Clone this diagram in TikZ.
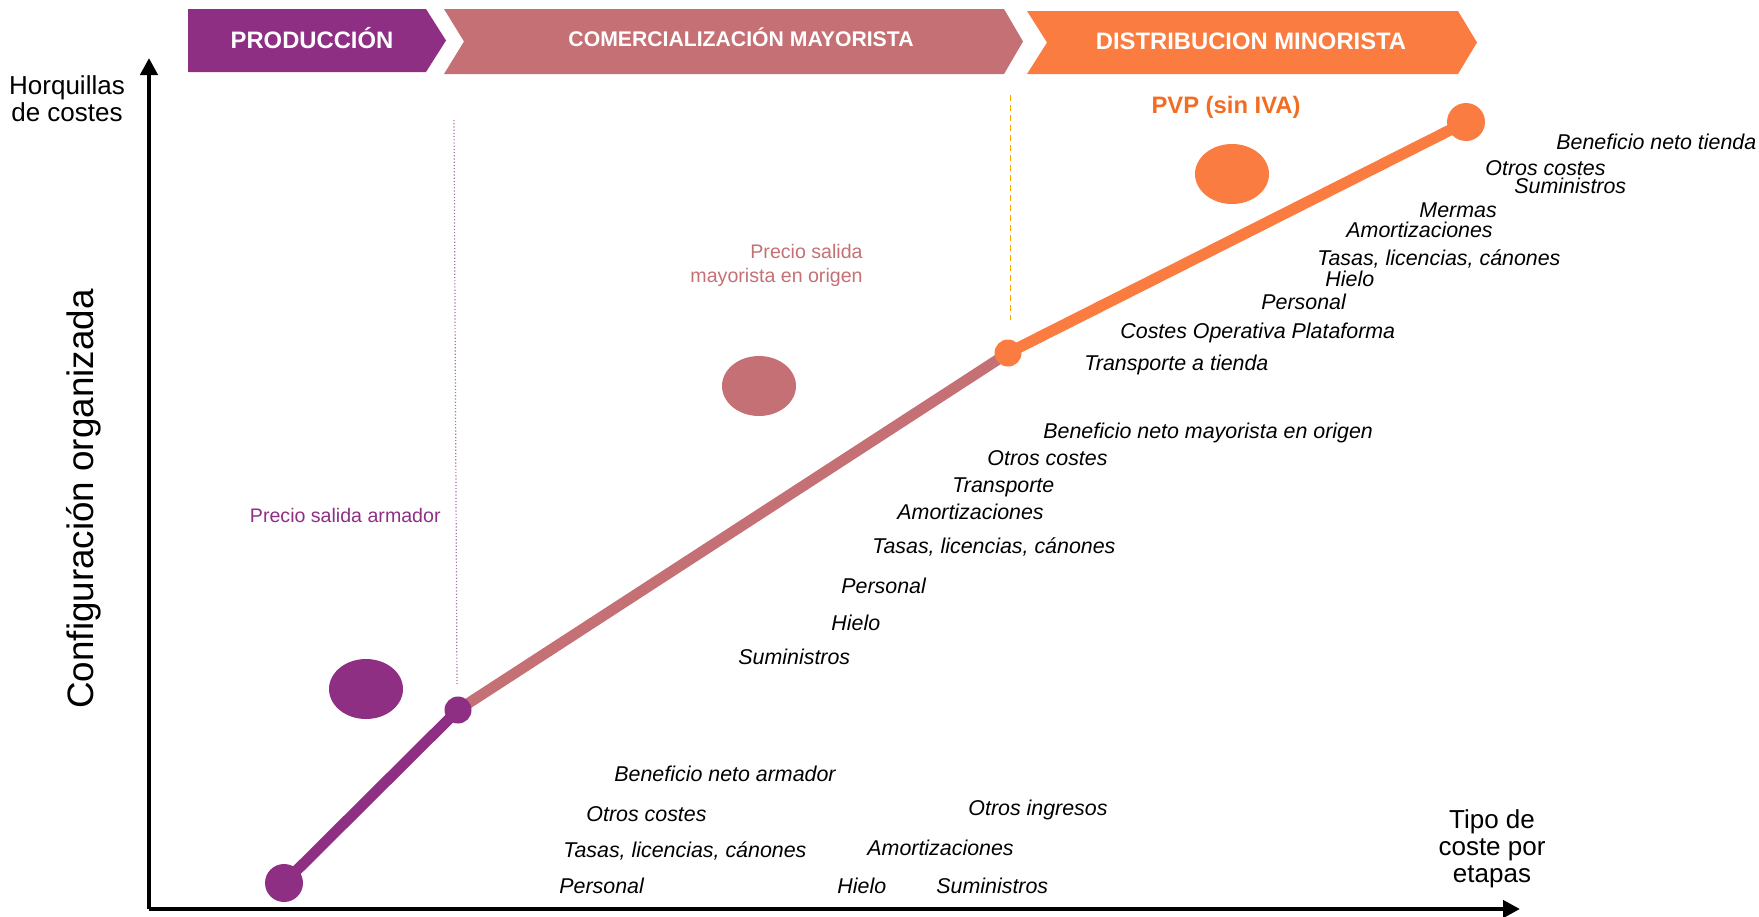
\documentclass[tikz,border=0pt]{standalone}
\usepackage{fontspec}
\setmainfont{Liberation Sans}
\usetikzlibrary{arrows.meta}
\definecolor{prodpurple}{RGB}{142,47,132}
\definecolor{mayrose}{RGB}{196,112,116}
\definecolor{minorange}{RGB}{250,124,64}
\definecolor{pvporange}{RGB}{243,108,33}
\tikzset{%
  tipA/.tip={Triangle[width=8.5pt,length=8.5pt]},
  lbl/.style={font=\fontsize{10.7}{12}\selectfont\itshape, inner sep=0pt, anchor=west},
  bantext/.style={font=\fontsize{#1}{13}\selectfont\bfseries, text=white, inner sep=0pt},
  dot/.style={circle, inner sep=0pt, minimum size=#1},
  axlbl/.style={font=\fontsize{13}{13.6}\selectfont, align=center, inner sep=0pt}
}
\begin{document}
\begin{tikzpicture}[x=0.5pt,y=-0.5pt]
\useasboundingbox (0,0) rectangle (1759,916);
% etapas
\fill[prodpurple] (188,9)--(426,9)--(446,40.5)--(426,72)--(188,72)--cycle;
\fill[mayrose] (444,9)--(1004,9)--(1023,41.5)--(1004,74)--(444,74)--(464,41.5)--cycle;
\fill[minorange] (1027,11)--(1458,11)--(1477,42.5)--(1458,74)--(1027,74)--(1047,42.5)--cycle;
\node[bantext=11.9] (prod) at (312,38) {PRODUCCIÓN};
\node[bantext=10.6] (mayor) at (741,37) {COMERCIALIZACIÓN MAYORISTA};
\node[bantext=11.9] (minor) at (1251,41) {DISTRIBUCION MINORISTA};
% ejes
\coordinate (orig) at (149,909);
\coordinate (ytop) at (149,58);
\coordinate (xend) at (1520,909);
\draw[line width=2.2pt, -tipA] (orig) -- (ytop);
\draw[line width=2.2pt, -tipA] (orig) -- (xend);
\node[axlbl] (ylab) at (67,99) {Horquillas\\de costes};
\node[axlbl] (xlab) at (1492,849) {Tipo de\\coste por\\etapas};
\node[font=\fontsize{18.4}{20}\selectfont, rotate=90, inner sep=0pt] (conf) at (84,499) {Configuración organizada};
% guias
\draw[prodpurple!70, densely dotted, line width=0.6pt] (454,120) -- (457,684);
\draw[orange!70!yellow, densely dashed, line width=0.5pt] (1010,95) -- (1010,320);
% recorrido
\coordinate (p0) at (284,883);
\coordinate (p1) at (458,710);
\coordinate (p2) at (1008,353);
\coordinate (p3) at (1466,122);
\draw[prodpurple, line width=5.4pt] (p0) -- (p1);
\draw[mayrose, line width=5.4pt] (p1) -- (p2);
\draw[minorange, line width=5.6pt] (p2) -- (p3);
\node[dot=19pt, fill=prodpurple] (d0) at (p0) {};
\node[dot=13.5pt, fill=prodpurple] (d1) at (p1) {};
\node[dot=13.5pt, fill=minorange] (d2) at (p2) {};
\node[dot=19pt, fill=minorange] (d3) at (p3) {};
\fill[prodpurple] (366,689) ellipse [x radius=18.5pt, y radius=15pt];
\fill[mayrose] (759,386) ellipse [x radius=18.5pt, y radius=15pt];
\fill[minorange] (1232,174) ellipse [x radius=18.5pt, y radius=15pt];
% precios
\node[font=\fontsize{9.8}{12}\selectfont, text=prodpurple, anchor=east, inner sep=0pt] (parm) at (441,515) {Precio salida armador};
\node[font=\fontsize{9.8}{12}\selectfont, text=mayrose, anchor=east, align=right, inner sep=0pt] (pmay) at (863,265) {Precio salida\\mayorista en origen};
\node[font=\fontsize{11.9}{13}\selectfont\bfseries, text=pvporange, inner sep=0pt] (pvp) at (1226,107) {PVP (sin IVA)};
% costes produccion
\node[lbl] (a1) at (614,774) {Beneficio neto armador};
\node[lbl] (a2) at (586,814) {Otros costes};
\node[lbl] (a3) at (563,851) {Tasas, licencias, cánones};
\node[lbl] (a4) at (559,886) {Personal};
\node[lbl] (a5) at (968,810) {Otros ingresos};
\node[lbl] (a6) at (867,848) {Amortizaciones};
\node[lbl] (a7) at (837,886) {Hielo};
\node[lbl] (a8) at (936,886) {Suministros};
% costes mayorista
\node[lbl] (b1) at (1043,433) {Beneficio neto mayorista en origen};
\node[lbl] (b2) at (987,458) {Otros costes};
\node[lbl] (b3) at (952,487) {Transporte};
\node[lbl] (b4) at (897,512) {Amortizaciones};
\node[lbl] (b5) at (872,547) {Tasas, licencias, cánones};
\node[lbl] (b6) at (841,586) {Personal};
\node[lbl] (b7) at (831,623) {Hielo};
\node[lbl] (b8) at (738,657) {Suministros};
% costes minorista
\node[lbl] (c1) at (1556,142) {Beneficio neto tienda};
\node[lbl] (c2) at (1485,168) {Otros costes};
\node[lbl] (c3) at (1514,186) {Suministros};
\node[lbl] (c4) at (1419,210) {Mermas};
\node[lbl] (c5) at (1346,230) {Amortizaciones};
\node[lbl] (c6) at (1317,259) {Tasas, licencias, cánones};
\node[lbl] (c7) at (1325,279) {Hielo};
\node[lbl] (c8) at (1261,302) {Personal};
\node[lbl] (c9) at (1120,333) {Costes Operativa Plataforma};
\node[lbl] (c10) at (1084,365) {Transporte a tienda};
\end{tikzpicture}
\end{document}
